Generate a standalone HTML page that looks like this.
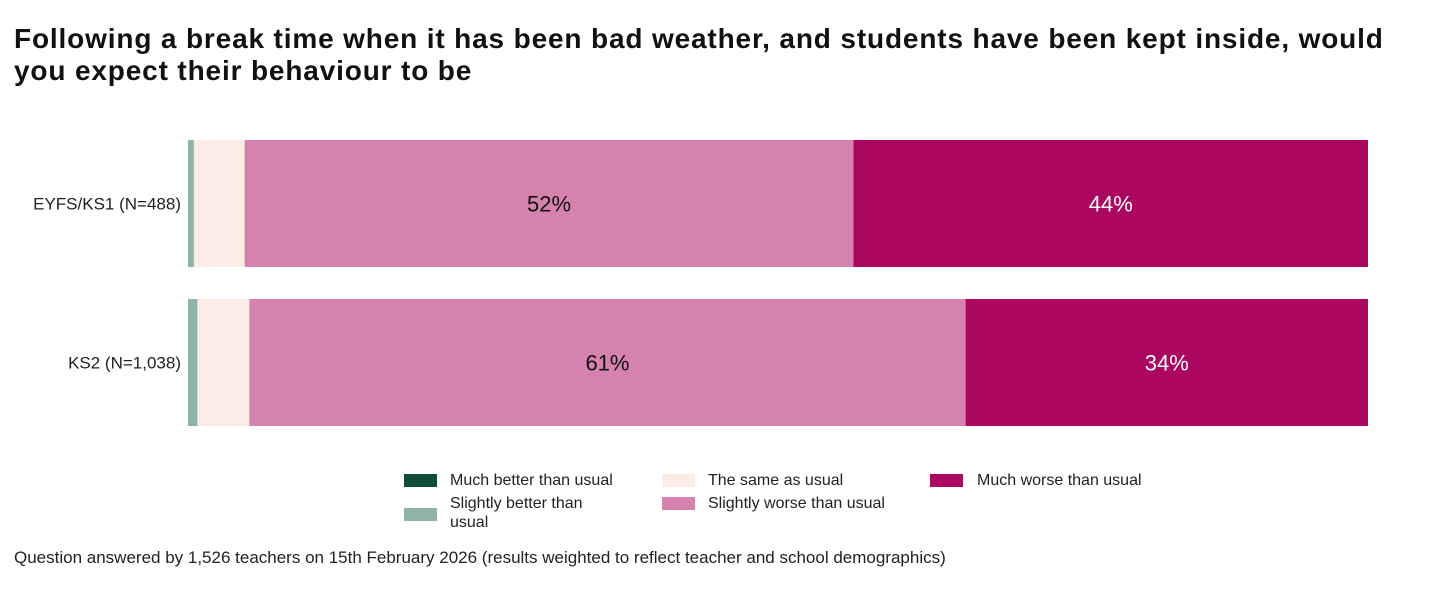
<!DOCTYPE html>
<html><head><meta charset="utf-8">
<style>
body{margin:0;width:1440px;height:600px;background:#fff;font-family:"Liberation Sans",sans-serif;overflow:hidden;position:relative}
h1{position:absolute;left:14px;top:23px;margin:0;font-size:28px;line-height:32px;font-weight:bold;color:#111;width:1420px;letter-spacing:0.85px;white-space:nowrap}
.lg{position:absolute;font-size:16px;color:#222;line-height:19px}
.sw{position:absolute;width:33px;height:13px}
#foot{position:absolute;left:14px;top:548px;font-size:17px;color:#222}
</style></head><body>
<h1>Following a break time when it has been bad weather, and students have been kept inside, would<br>you expect their behaviour to be</h1>
<svg id="chart" width="1440" height="600" style="position:absolute;left:0;top:0"></svg>
<div>
<div class="sw" style="left:404px;top:474px;background:#0f4d3a"></div>
<div class="lg" style="left:450px;top:471px">Much better than usual</div>
<div class="sw" style="left:404px;top:508px;background:#8fb3a8"></div>
<div class="lg" style="left:450px;top:494px;width:170px">Slightly better than usual</div>
<div class="sw" style="left:662px;top:474px;background:#fbece6"></div>
<div class="lg" style="left:708px;top:471px">The same as usual</div>
<div class="sw" style="left:662px;top:497px;background:#d582ae"></div>
<div class="lg" style="left:708px;top:494px">Slightly worse than usual</div>
<div class="sw" style="left:930px;top:474px;background:#ab0761"></div>
<div class="lg" style="left:977px;top:471px">Much worse than usual</div>
</div>
<div id="foot">Question answered by 1,526 teachers on 15th February 2026 (results weighted to reflect teacher and school demographics)</div>
<script>
const categories = ["EYFS/KS1 (N=488)", "KS2 (N=1,038)"];
const muchBetter = [0, 0];
const slightlyBetter = [0.5, 0.8];
const same = [4.3, 4.4];
const slightlyWorse = [51.6, 60.7];
const muchWorse = [43.6, 34.1];
const seriesNames = ["much-better","slightly-better","same","slightly-worse","much-worse"];
const seriesValues = [muchBetter, slightlyBetter, same, slightlyWorse, muchWorse];
const colors = ["#0f4d3a","#8fb3a8","#fbece6","#d582ae","#ab0761"];
const textColors = ["#fff","#111","#111","#111","#fff"];

const X0 = 188, W = 1180;
const x = v => X0 + v / 100 * W;
const rowTop = i => 140 + i * 159;
const barH = 127;
const svg = document.getElementById('chart');
const NS = "http://www.w3.org/2000/svg";
categories.forEach((c, i) => {
  const lab = document.createElementNS(NS, 'text');
  
  
  lab.setAttribute('x', 181); lab.setAttribute('y', rowTop(i) + barH / 2 + 6);
  lab.setAttribute('text-anchor', 'end'); lab.setAttribute('font-size', '17'); lab.setAttribute('fill', '#222');
  lab.textContent = c; svg.appendChild(lab);
  let acc = 0;
  seriesValues.forEach((arr, s) => {
    const v = arr[i];
    if (v <= 0) return;
    const r = document.createElementNS(NS, 'rect');
    
    
    r.setAttribute('x', x(acc)); r.setAttribute('y', rowTop(i));
    r.setAttribute('width', x(acc + v) - x(acc)); r.setAttribute('height', barH);
    r.setAttribute('fill', colors[s]); svg.appendChild(r);
    if (v >= 5) {
      const t = document.createElementNS(NS, 'text');
      
      
      t.setAttribute('x', (x(acc) + x(acc + v)) / 2); t.setAttribute('y', rowTop(i) + barH / 2 + 8);
      t.setAttribute('text-anchor', 'middle'); t.setAttribute('font-size', '22'); t.setAttribute('fill', textColors[s]);
      t.textContent = Math.round(v) + '%'; svg.appendChild(t);
    }
    acc += v;
  });
});
</script>
</body></html>
